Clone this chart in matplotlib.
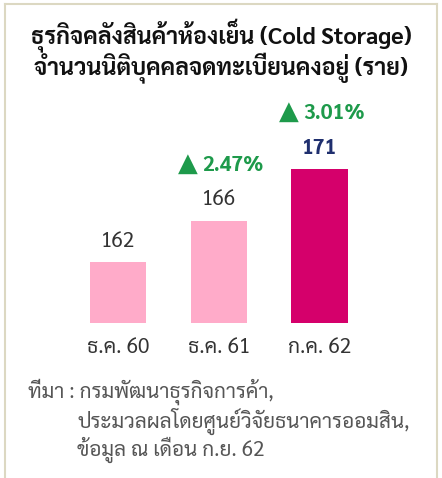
import matplotlib
matplotlib.use("Agg")
import matplotlib.pyplot as plt
from matplotlib.lines import Line2D

plt.rcParams['font.family'] = ['Sarabun', 'Noto Sans Thai Looped', 'Noto Sans Thai', 'DejaVu Sans']

# data
periods = ["ธ.ค. 60", "ธ.ค. 61", "ก.ค. 62"]
firms = [162, 166, 171]
bar_colors = ["#ffabc9", "#ffabc9", "#d5006b"]

title_1 = "ธุรกิจคลังสินค้าห้องเย็น (Cold Storage)"
title_2 = "จำนวนนิติบุคคลจดทะเบียนคงอยู่ (ราย)"
source_lines = ["ที่มา : กรมพัฒนาธุรกิจการค้า,",
                "ประมวลผลโดยศูนย์วิจัยธนาคารออมสิน,",
                "ข้อมูล ณ เดือน ก.ย. 62"]

W, H = 442, 478
fig = plt.figure(figsize=(W / 100, H / 100), dpi=100)

# axes placed in pixels
ax = fig.add_axes([40 / W, 155 / H, 360 / W, 233 / H])
x = range(len(periods))
ax.bar(x, firms, width=0.556, color=bar_colors)
ax.set_xlim(-0.774, 2.799)
ax.set_ylim(156.1, 178.66)
ax.set_yticks([])
ax.set_xticks(list(x))
ax.set_xticklabels(periods, fontsize=15, color="#333333")
ax.tick_params(axis="x", length=0, pad=10)
for s in ax.spines.values():
    s.set_visible(False)

# value labels
for i, v in enumerate(firms):
    last = i == len(firms) - 1
    ax.annotate(str(v), (i, v), xytext=(0, 15), textcoords="offset points",
                ha="center", va="center", fontsize=15,
                color="#1f2f6e" if last else "#333333",
                fontweight="bold" if last else "normal")

# growth labels
green = "#1e9a4b"
for i in range(1, len(firms)):
    g = (firms[i] / firms[i - 1] - 1) * 100
    ax.annotate("▲", (i, firms[i]), xytext=(-22, 41),
                textcoords="offset points", ha="center", va="center",
                fontsize=18.5, color=green, family="DejaVu Sans")
    ax.annotate("%.2f%%" % g, (i, firms[i]), xytext=(-12, 40),
                textcoords="offset points", ha="left", va="center",
                fontsize=15, color=green, fontweight="bold")

fig.text(0.5, 1 - 36 / H, title_1, ha="center", va="center",
         fontsize=16.7, fontweight="bold", color="#111111")
fig.text(0.5, 1 - 69 / H, title_2, ha="center", va="center",
         fontsize=16.7, fontweight="bold", color="#111111")

fig.text(28 / W, 1 - 392 / H, source_lines[0], ha="left", va="center",
         fontsize=14.9, color="#555555")
fig.text(77 / W, 1 - 421 / H, source_lines[1], ha="left", va="center",
         fontsize=14.9, color="#555555")
fig.text(77 / W, 1 - 450 / H, source_lines[2], ha="left", va="center",
         fontsize=14.9, color="#555555")

# frame
bc = "#dcd8c2"
fig.add_artist(Line2D([5 / W, 5 / W], [0, 1 - 4 / H], transform=fig.transFigure, color=bc, lw=1.5))
fig.add_artist(Line2D([437 / W, 437 / W], [0, 1 - 4 / H], transform=fig.transFigure, color=bc, lw=1.5))
fig.add_artist(Line2D([5 / W, 437 / W], [1 - 4 / H, 1 - 4 / H], transform=fig.transFigure, color=bc, lw=1.5))

fig.savefig("out.png", dpi=100)
